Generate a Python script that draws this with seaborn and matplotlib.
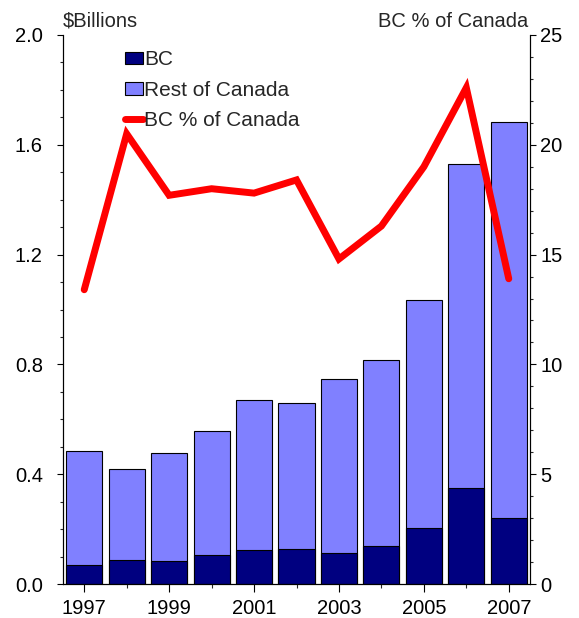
import matplotlib
matplotlib.use("Agg")
import matplotlib.pyplot as plt
import seaborn as sns
from matplotlib.ticker import MultipleLocator
from matplotlib.patches import Patch
from matplotlib.lines import Line2D

years = [1997, 1998, 1999, 2000, 2001, 2002, 2003, 2004, 2005, 2006, 2007]
bc = [0.069, 0.087, 0.085, 0.105, 0.124, 0.127, 0.113, 0.138, 0.204, 0.349, 0.240]
rest_of_canada = [0.415, 0.331, 0.391, 0.451, 0.545, 0.531, 0.632, 0.677, 0.832, 1.182, 1.444]
bc_pct = [13.4, 20.5, 17.7, 18.0, 17.8, 18.4, 14.8, 16.3, 19.0, 22.6, 13.9]

total = [b + r for b, r in zip(bc, rest_of_canada)]

sns.set_style("white")
plt.rcParams['font.family'] = ['Liberation Sans', 'DejaVu Sans']
fs = 14.5

fig = plt.figure(figsize=(5.79, 6.18), dpi=100)
ax = fig.add_axes([63 / 579, 34 / 618, 467 / 579, 549 / 618])

# stacked bars: total (light) underneath, BC (dark) on top of it
sns.barplot(x=years, y=total, native_scale=True, width=0.85, color='#8080ff',
            edgecolor='black', linewidth=0.8, saturation=1, ax=ax)
sns.barplot(x=years, y=bc, native_scale=True, width=0.85, color='#000080',
            edgecolor='black', linewidth=0.8, saturation=1, ax=ax)

ax.set_xlim(1996.5, 2007.5)
ax.set_ylim(0, 2.0)
ax.yaxis.set_major_locator(MultipleLocator(0.4))
ax.yaxis.set_minor_locator(MultipleLocator(0.1))
ax.set_xticks([1997, 1999, 2001, 2003, 2005, 2007])
ax.xaxis.set_minor_locator(MultipleLocator(1))
ax.set_yticks([0, 0.4, 0.8, 1.2, 1.6, 2.0])
ax.set_yticklabels(['0.0', '0.4', '0.8', '1.2', '1.6', '2.0'])

ax2 = ax.twinx()
sns.lineplot(x=years, y=bc_pct, color='#ff0000', linewidth=5,
             solid_capstyle='round', solid_joinstyle='miter', ax=ax2)
ax2.set_ylim(0, 25)
ax2.yaxis.set_major_locator(MultipleLocator(5))
ax2.yaxis.set_minor_locator(MultipleLocator(1))

for a in (ax, ax2):
    a.spines['top'].set_visible(False)
    for s in a.spines.values():
        s.set_color('black')
        s.set_linewidth(0.8)
    a.tick_params(which='major', direction='out', length=4.5, width=0.8,
                  labelsize=fs, colors='black')
    a.tick_params(which='minor', direction='out', length=2.5, width=0.8)
ax.tick_params(axis='x', which='major', bottom=True, length=5.5, pad=5)
ax.tick_params(axis='x', which='minor', bottom=True, length=3)
ax.tick_params(axis='y', which='both', left=True)
ax.tick_params(axis='y', which='major', pad=10)
ax2.tick_params(axis='y', which='both', right=True)
ax2.tick_params(axis='y', which='major', pad=3)
ax.set_xlabel('')
ax.set_ylabel('')
ax2.set_ylabel('')

fig.text(63 / 579, 1 - 27 / 618, '\\$Billions', fontsize=fs, ha='left', va='baseline')
fig.text(528 / 579, 1 - 27 / 618, 'BC % of Canada', fontsize=fs, ha='right', va='baseline')

handles = [Patch(facecolor='#000080', edgecolor='black', linewidth=0.8),
           Patch(facecolor='#8080ff', edgecolor='black', linewidth=0.8),
           Line2D([0], [0], color='#ff0000', linewidth=5, solid_capstyle='round')]
ax2.legend(handles, ['BC', 'Rest of Canada', 'BC % of Canada'],
           loc='upper left', bbox_to_anchor=(0.133, 0.972), frameon=False,
           fontsize=15, handlelength=0.85, handleheight=0.55, handletextpad=0.05,
           labelspacing=0.55, borderaxespad=0, borderpad=0)

fig.savefig('out.png', dpi=100)
